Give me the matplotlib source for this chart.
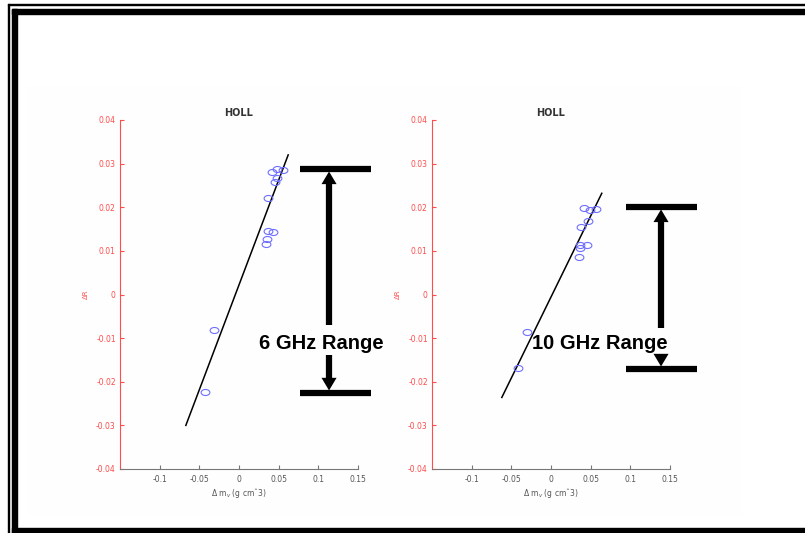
import matplotlib
matplotlib.use("Agg")
import matplotlib.pyplot as plt
from matplotlib.patches import Polygon, Rectangle
from matplotlib.path import Path
from matplotlib.transforms import Affine2D

# --------------------------------------------------------------------------- #
# data
# --------------------------------------------------------------------------- #
x_ticks = [-0.1, -0.05, 0, 0.05, 0.1, 0.15]
x_tick_labels = ["-0.1", "-0.05", "0", "0.05", "0.1", "0.15"]
y_ticks = [-0.04, -0.03, -0.02, -0.01, 0, 0.01, 0.02, 0.03, 0.04]
y_tick_labels = ["-0.04", "-0.03", "-0.02", "-0.01", "0", "0.01", "0.02", "0.03", "0.04"]

# left panel (6 GHz)
dm_6 = [0.041, 0.048, 0.056, 0.0475, 0.046, 0.037, 0.036, 0.043, 0.035, 0.034, -0.031, -0.043]
dr_6 = [0.028, 0.0288, 0.0285, 0.0268, 0.0257, 0.0221, 0.0146, 0.0143, 0.0127, 0.0115, -0.0082, -0.0224]
fit_x_6 = [-0.067, 0.062]
fit_y_6 = [-0.030, 0.032]

# right panel (10 GHz)
dm_10 = [0.0416, 0.049, 0.0567, 0.047, 0.038, 0.0366, 0.045, 0.037, 0.0353, -0.030, -0.0416]
dr_10 = [0.0198, 0.0194, 0.0196, 0.0168, 0.0154, 0.0113, 0.0113, 0.0107, 0.0087, -0.0087, -0.0168]
fit_x_10 = [-0.062, 0.064]
fit_y_10 = [-0.0236, 0.0232]

# range markers: (bar x0, bar x1, arrow x, top y, bottom y)
range_6 = (0.077, 0.166, 0.1135, 0.0288, -0.0226)
range_10 = (0.0945, 0.184, 0.1387, 0.0201, -0.0171)
range_labels = ["6 GHz Range", "10 GHz Range"]

RED = "#ff4c4c"
GRAY = "#555555"

# matlab's circles come out squashed in the pasted image
ellipse = Path.unit_circle().transformed(Affine2D().scale(1.45, 1.0))


def head(ax, x, tip, up, w=0.0095, h=0.0029):
    # filled arrow head, tip at (x, tip)
    base = tip - h if up else tip + h
    ax.add_patch(Polygon([(x - w, base), (x + w, base), (x, tip)], closed=True,
                         color="black", lw=0, clip_on=False))


def panel(ax, dm, dr, fx, fy, rng, label, text_x, shafts):
    ax.plot(fx, fy, color="black", lw=1.1)
    ax.plot(dm, dr, linestyle="none", marker=ellipse, mfc="none", mec="#6f6fff",
            ms=6.3, mew=0.8)
    ax.set_xlim(-0.15, 0.15)
    ax.set_ylim(-0.04, 0.04)
    ax.set_xticks(x_ticks)
    ax.set_xticklabels(x_tick_labels)
    ax.set_yticks(y_ticks)
    ax.set_yticklabels(y_tick_labels)
    for s in ("top", "right"):
        ax.spines[s].set_visible(False)
    ax.spines["left"].set_color(RED)
    ax.spines["bottom"].set_color("#777777")
    ax.tick_params(axis="y", direction="in", length=3, colors=RED, labelsize=5.5, pad=3)
    ax.tick_params(axis="x", direction="in", length=3, colors="#777777",
                   labelcolor=GRAY, labelsize=5.5, pad=4)
    ax.set_title("HOLL", fontsize=7, color="#333333", pad=3, fontweight="semibold")
    ax.set_ylabel("\u0394R", color=RED, fontsize=5, labelpad=5)
    ax.set_xlabel("\u0394 m$_v$ (g cm\u02c63)", color=GRAY, fontsize=5.5, labelpad=2)

    x0, x1, xa, ytop, ybot = rng
    kw = dict(color="black", lw=4.5, clip_on=False, solid_capstyle="butt")
    ax.plot([x0, x1], [ytop, ytop], **kw)
    ax.plot([x0, x1], [ybot, ybot], **kw)
    for y0, y1 in shafts:
        ax.plot([xa, xa], [y0, y1], **kw)
    head(ax, xa, ytop - 0.0006, True)
    head(ax, xa, ybot + 0.0006, False)
    ax.text(text_x, -0.0112, label, ha="center", va="center", fontsize=14.5,
            fontweight="bold", family="Liberation Sans", clip_on=False)


fig = plt.figure(figsize=(8.05, 5.33), dpi=100)

# page frame
bg = fig.add_axes([0, 0, 1, 1], zorder=-1)
bg.set_xlim(0, 805)
bg.set_ylim(533, 0)
bg.axis("off")
bg.add_patch(Rectangle((27, 86), 715, 429, color="#fefefe", lw=0))
bg.add_patch(Rectangle((7.5, 4), 800, 1.4, color="black"))
bg.add_patch(Rectangle((7.5, 4), 1.4, 530, color="black"))
bg.add_patch(Rectangle((12, 9), 800, 5, color="black"))
bg.add_patch(Rectangle((12, 9), 5, 530, color="black"))
bg.add_patch(Rectangle((12, 528), 800, 6, color="black"))

W, H = 805, 533
ax1 = fig.add_axes([120 / W, (H - 469) / H, 238 / W, 349 / H])
ax2 = fig.add_axes([432 / W, (H - 469) / H, 238 / W, 349 / H])
for a in (ax1, ax2):
    a.patch.set_alpha(0)

panel(ax1, dm_6, dr_6, fit_x_6, fit_y_6, range_6, range_labels[0], 0.104,
      shafts=[(0.0255, -0.0070), (-0.0139, -0.0193)])
panel(ax2, dm_10, dr_10, fit_x_10, fit_y_10, range_10, range_labels[1], 0.061,
      shafts=[(0.0170, -0.0077)])

fig.savefig("out.png", dpi=100)
